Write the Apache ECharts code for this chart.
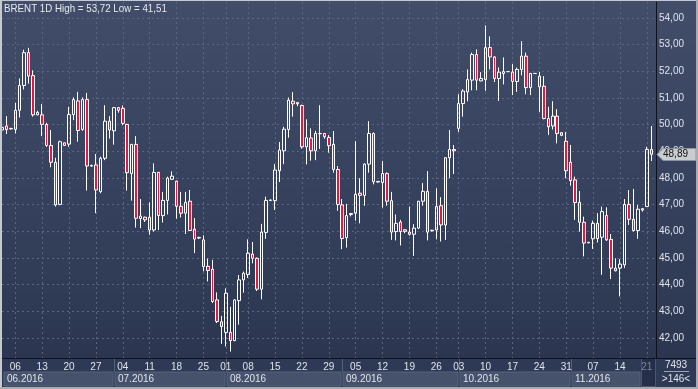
<!DOCTYPE html>
<html><head><meta charset="utf-8">
<script src="https://cdn.jsdelivr.net/npm/echarts@6/dist/echarts.min.js"></script>
<style>
html,body{margin:0;padding:0;background:#c4c7cc;}
#c{width:698px;height:389px;background:linear-gradient(180deg,#424e69 0%,#36425d 50%,#29334e 100%);}
</style></head><body><div id="c"></div>
<script>
const titleText = 'BRENT 1D High = 53,72 Low = 41,51';
const footerTop = '7493';
const footerBottom = '>146<';
const yTicks = [42,43,44,45,46,47,48,49,50,51,52,53,54];

const dates = [
'2016-06-02','2016-06-03','2016-06-05','2016-06-06','2016-06-07','2016-06-08','2016-06-09','2016-06-10',
'2016-06-12','2016-06-13','2016-06-14','2016-06-15','2016-06-16','2016-06-17',
'2016-06-19','2016-06-20','2016-06-21','2016-06-22','2016-06-23','2016-06-24',
'2016-06-26','2016-06-27','2016-06-28','2016-06-29','2016-06-30','2016-07-01',
'2016-07-03','2016-07-04','2016-07-05','2016-07-06','2016-07-07','2016-07-08',
'2016-07-10','2016-07-11','2016-07-12','2016-07-13','2016-07-14','2016-07-15',
'2016-07-17','2016-07-18','2016-07-19','2016-07-20','2016-07-21','2016-07-22',
'2016-07-24','2016-07-25','2016-07-26','2016-07-27','2016-07-28','2016-07-29',
'2016-08-01','2016-08-02','2016-08-03','2016-08-04','2016-08-05',
'2016-08-08','2016-08-09','2016-08-10','2016-08-11','2016-08-12',
'2016-08-14','2016-08-15','2016-08-16','2016-08-17','2016-08-18','2016-08-19',
'2016-08-21','2016-08-22','2016-08-23','2016-08-24','2016-08-25','2016-08-26',
'2016-08-28','2016-08-29','2016-08-30','2016-08-31','2016-09-01','2016-09-02',
'2016-09-04','2016-09-05','2016-09-06','2016-09-07','2016-09-08','2016-09-09',
'2016-09-11','2016-09-12','2016-09-13','2016-09-14','2016-09-15','2016-09-16',
'2016-09-18','2016-09-19','2016-09-20','2016-09-21','2016-09-22','2016-09-23',
'2016-09-25','2016-09-26','2016-09-27','2016-09-28','2016-09-29','2016-09-30',
'2016-10-03','2016-10-04','2016-10-05','2016-10-06','2016-10-07',
'2016-10-09','2016-10-10','2016-10-11','2016-10-12','2016-10-13','2016-10-14',
'2016-10-16','2016-10-17','2016-10-18','2016-10-19','2016-10-20','2016-10-21',
'2016-10-23','2016-10-24','2016-10-25','2016-10-26','2016-10-27','2016-10-28',
'2016-10-30','2016-10-31','2016-11-01','2016-11-02','2016-11-03','2016-11-04',
'2016-11-06','2016-11-07','2016-11-08','2016-11-09','2016-11-10','2016-11-11',
'2016-11-13','2016-11-14','2016-11-15','2016-11-16','2016-11-17','2016-11-18',
'2016-11-20','2016-11-21','2016-11-22'];

const open = [
49.80,49.95,49.84,49.82,50.54,51.47,52.70,51.84,50.37,50.37,
50.01,49.22,48.59,47.01,49.32,49.27,50.38,50.89,49.82,50.94,
48.45,48.49,47.49,48.74,50.13,49.77,50.64,50.61,50.01,48.17,
49.26,46.48,46.53,46.53,46.05,48.21,46.59,47.16,47.95,47.88,
46.94,46.68,47.13,46.08,45.77,45.68,44.69,44.58,43.43,42.61,
42.21,42.21,41.90,43.40,44.18,44.38,45.15,44.99,43.83,45.96,
47.16,47.15,48.27,49.02,49.82,50.88,50.83,50.72,49.17,49.50,
49.02,49.67,49.67,49.52,49.26,48.32,46.99,45.76,46.67,46.68,
47.43,47.35,48.52,49.67,47.87,47.83,48.17,47.15,45.99,46.35,
46.06,45.97,45.89,46.12,47.13,47.50,46.02,46.05,46.96,46.24,
48.76,49.07,49.86,50.79,51.23,51.67,52.63,51.64,51.69,52.89,
52.54,51.73,51.92,51.99,51.97,51.62,52.07,52.57,51.39,51.92,
51.82,51.44,50.23,49.95,50.32,49.70,49.38,48.59,47.93,47.09,
46.34,45.57,45.72,46.30,45.78,46.59,45.70,44.62,44.62,44.74,
47.01,46.45,46.03,46.85,46.93,49.07];

const close = [
49.90,49.82,49.86,50.54,51.47,52.70,51.82,50.37,50.46,50.01,
49.22,48.59,46.99,49.36,49.22,50.38,50.94,49.78,50.94,48.45,
48.47,47.55,48.74,50.13,49.80,50.64,50.54,50.05,48.20,49.26,
46.49,46.57,46.43,46.05,48.21,46.59,47.16,48.00,48.07,46.94,
46.68,47.09,46.03,45.71,45.75,44.68,44.53,43.37,42.62,42.43,
43.68,41.90,43.43,44.18,44.43,45.18,44.99,43.83,45.97,47.16,
47.17,48.30,49.05,49.83,50.92,50.78,50.78,49.17,49.51,49.02,
49.67,49.66,49.55,49.21,48.32,47.01,45.73,46.59,46.63,47.39,
47.35,48.52,49.67,47.86,47.85,48.17,47.13,45.97,46.30,45.99,
46.00,45.89,46.12,47.13,47.50,45.97,46.04,46.93,46.24,48.76,
49.07,49.02,50.79,51.26,51.69,52.63,51.67,51.73,52.89,52.54,
51.73,51.97,51.99,51.99,51.62,52.07,52.57,51.39,51.92,51.92,
51.42,50.23,49.92,50.32,49.67,49.60,48.27,47.90,47.08,46.34,
45.56,45.59,46.30,45.73,46.74,45.68,44.62,44.52,44.77,47.01,
46.45,46.03,46.83,46.80,49.07,48.89];

const low = [
49.60,49.65,49.82,49.67,50.27,51.32,51.54,50.30,50.35,49.57,
49.17,48.40,46.93,46.98,49.20,49.17,50.17,49.36,49.77,47.53,
48.42,46.68,47.43,48.67,49.48,49.25,50.45,49.98,47.53,47.15,
46.14,46.12,46.35,45.87,45.99,46.05,46.33,46.63,47.94,46.47,
46.52,45.90,46.02,45.18,45.71,44.50,44.12,43.31,42.56,41.78,
41.68,41.49,41.88,42.50,43.70,44.25,44.80,43.76,43.45,45.72,
47.13,46.80,47.85,48.52,49.51,50.30,50.69,49.10,48.51,48.65,
48.67,49.09,49.47,48.95,48.20,46.77,45.33,45.39,46.56,46.40,
46.30,46.96,48.20,47.76,47.83,46.89,46.96,45.68,45.66,45.47,
45.93,45.84,45.08,46.09,46.96,45.66,45.99,45.70,45.62,45.68,
47.99,48.15,49.73,50.30,50.88,51.29,51.29,51.63,51.27,52.07,
51.60,50.89,51.51,51.97,51.11,51.23,51.85,51.14,51.11,51.90,
50.48,50.20,49.61,49.82,49.30,49.57,47.99,47.71,46.43,45.99,
45.06,45.55,45.34,45.58,44.37,45.64,44.21,44.50,43.56,44.62,
46.24,45.99,45.72,46.74,46.93,48.64];

const high = [
50.00,50.32,49.88,50.82,51.73,52.81,52.88,52.04,50.52,50.77,
50.07,49.80,48.76,49.40,49.33,50.67,51.02,51.23,51.02,51.19,
48.50,48.90,48.80,50.73,50.32,50.66,50.66,50.72,50.03,49.28,
49.57,47.21,46.55,47.09,48.55,48.23,47.48,48.05,48.25,47.90,
47.48,47.48,47.55,46.50,45.80,45.85,44.98,44.93,43.71,42.83,
43.86,43.17,43.45,44.36,44.49,45.70,45.60,45.02,46.28,47.30,
47.20,48.52,49.35,49.92,51.02,51.22,50.84,50.75,50.20,49.86,
49.77,50.73,49.68,49.61,49.76,48.45,47.21,47.03,46.68,49.38,
47.99,48.55,50.13,49.71,47.89,48.64,48.21,47.48,46.63,46.43,
46.07,46.93,46.27,47.14,47.81,48.26,46.06,47.61,47.28,48.78,
49.80,49.24,51.14,51.33,52.07,52.70,52.82,51.97,53.72,53.31,
52.56,52.15,52.52,52.01,52.27,52.14,53.13,52.70,51.94,51.94,
51.98,51.82,50.67,50.88,50.58,49.72,49.73,49.24,48.05,47.51,
46.55,45.60,46.40,46.68,46.93,46.90,45.90,44.99,44.96,47.21,
47.55,47.59,46.99,46.86,49.17,49.95];

const chart = echarts.init(document.getElementById('c'), null, {renderer:'canvas'});
const ohlc = dates.map((d,i)=>[i, open[i], close[i], low[i], high[i]]);
const mondays = [];
const monthStarts = [];
dates.forEach((d,i)=>{
  const dt = new Date(d+'T00:00:00Z');
  if (dt.getUTCDay()===1) mondays.push(i);
  if (i===0 || d.slice(5,7)!==dates[i-1].slice(5,7)) monthStarts.push(i);
});
const lastMonday = mondays[mondays.length-1];
const FONT = 'Liberation Sans, Arial, sans-serif';
const txt = '#dfe3ea';
const gridCol = '#5a6681';

chart.setOption({
  animation:false,
  grid:{left:2, right:42, top:2, bottom:31, show:false},
  xAxis:{
    type:'value', min:0.04, max:146.05,
    axisLine:{show:true, onZero:false, lineStyle:{color:'#0e121c', width:1}},
    axisTick:{show:false, customValues:mondays},
    axisLabel:{customValues:mondays, margin:4, fontSize:10, fontFamily:FONT,
      formatter:v=>dates[Math.round(v)].slice(8),
      color:(v)=> Math.round(v)===lastMonday ? '#7c869c' : txt},
    splitLine:{show:true, lineStyle:{color:gridCol, width:1, type:[2,3]}}
  },
  yAxis:{
    type:'value', position:'right', min:41.25, max:54.6, scale:true,
    axisLine:{show:true, lineStyle:{color:'#0e121c', width:1}},
    axisTick:{show:false, customValues:yTicks},
    axisLabel:{customValues:yTicks, margin:3, fontSize:10, fontFamily:FONT, color:txt,
      formatter:v=>v.toFixed(2).replace('.',',')},
    splitLine:{show:true, lineStyle:{color:gridCol, width:1, type:[2,3]}}
  },
  series:[{
    type:'candlestick',
    data:ohlc,
    encode:{x:0, y:[1,2,3,4]},
    barWidth:3,
    clip:true,
    itemStyle:{color:'rgba(0,0,0,0)', color0:'#e8173f', borderColor:'#ffffff', borderColor0:'#ffffff', borderWidth:1}
  }]
});

function px(i){ return chart.convertToPixel({xAxisIndex:0}, i); }
function py(v){ return chart.convertToPixel({yAxisIndex:0}, v); }

const g = [];
const plotR = 656, bandTop = 358, bandBot = 387;
g.push({type:'rect', z:-1, shape:{x:2,y:bandTop,width:plotR-2,height:bandBot-bandTop}, style:{fill:'#2e3955'}});
for (let m=0;m<monthStarts.length;m++){
  const xs = m===0 ? 3 : Math.round(px(monthStarts[m]));
  const xe = m+1<monthStarts.length ? Math.round(px(monthStarts[m+1])) : Math.round(px(lastMonday))-6;
  g.push({type:'rect', z:-1, shape:{x:xs+1,y:372,width:xe-xs-2,height:14}, style:{fill:'#46526c', stroke:'#56627b', lineWidth:1}});
  if (m>0) g.push({type:'line', z:-1, shape:{x1:xs+0.5,y1:bandTop,x2:xs+0.5,y2:372}, style:{stroke:'#55617a', lineWidth:1}});
  const d = dates[monthStarts[m]];
  g.push({type:'text', z:5, x:xs+4, y:379.5, style:{text:d.slice(5,7)+'.'+d.slice(0,4), fill:txt, font:'10px '+FONT, verticalAlign:'middle'}});
}
const cx = Math.round(px(lastMonday))-6;
g.push({type:'rect', z:-1, shape:{x:cx+0.5,y:bandTop+0.5,width:plotR-cx-1,height:bandBot-bandTop-1}, style:{fill:'#252f4a', stroke:'#4a5670', lineWidth:1}});
g.push({type:'rect', z:-1, shape:{x:plotR,y:bandTop,width:40,height:bandBot-bandTop}, style:{fill:'#2e3955'}});
g.push({type:'line', z:5, shape:{x1:plotR,y1:bandTop+0.5,x2:696,y2:bandTop+0.5}, style:{stroke:'#0e121c', lineWidth:1}});
g.push({type:'text', z:5, x:676, y:365, style:{text:footerTop, fill:txt, font:'10px '+FONT, align:'center', verticalAlign:'middle'}});
g.push({type:'line', z:5, shape:{x1:664,y1:371.5,x2:689,y2:371.5}, style:{stroke:'#9aa2b4', lineWidth:1}});
g.push({type:'text', z:5, x:676, y:379, style:{text:footerBottom, fill:txt, font:'10px '+FONT, align:'center', verticalAlign:'middle'}});
g.push({type:'text', z:5, x:4, y:9, scaleX:0.93, style:{text:titleText, fill:'#e6e9ef', font:'10.5px '+FONT, verticalAlign:'middle'}});
const lp = Math.round(py(close[close.length-1]))+0.5;
g.push({type:'polygon', z:6, shape:{points:[[657,lp],[663,lp-6],[696,lp-6],[696,lp+6],[663,lp+6]]}, style:{fill:'#c9ccd1', stroke:'#8d929c', lineWidth:1}});
g.push({type:'text', z:7, x:663, y:lp, style:{text:close[close.length-1].toFixed(2).replace('.',','), fill:'#111', font:'10px '+FONT, verticalAlign:'middle'}});
g.push({type:'rect', z:10, shape:{x:0,y:0,width:2,height:389}, style:{fill:'#c6c9ce'}});
g.push({type:'rect', z:10, shape:{x:0,y:0,width:698,height:1}, style:{fill:'#c6c9ce'}});
g.push({type:'rect', z:10, shape:{x:696,y:0,width:2,height:389}, style:{fill:'#a8acb2'}});
g.push({type:'rect', z:10, shape:{x:0,y:387,width:698,height:2}, style:{fill:'#a8acb2'}});
chart.setOption({graphic:{elements:g}});
</script></body></html>
